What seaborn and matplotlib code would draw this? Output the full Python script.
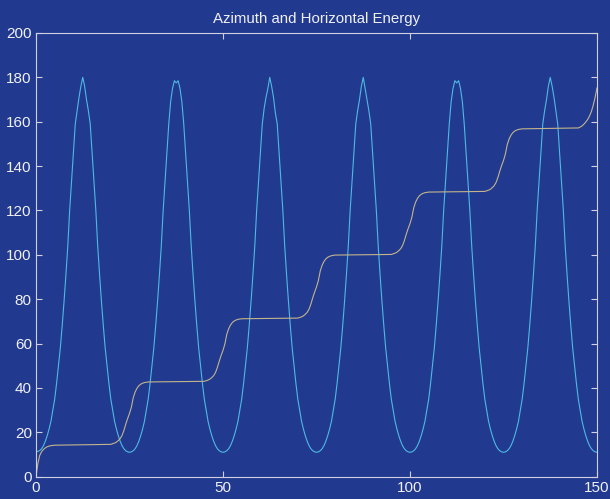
import matplotlib
matplotlib.use("Agg")
import matplotlib.pyplot as plt
import seaborn as sns
import pandas as pd
import numpy as np

# ---------------- data ----------------
title = "Azimuth and Horizontal Energy"
x_ticks = [0, 50, 100, 150]
y_ticks = [0, 20, 40, 60, 80, 100, 120, 140, 160, 180, 200]

# azimuth sampled every 0.5 on x (0 .. 150), one list per period
az_p1 = [11.3, 11.4, 11.8, 12.6, 14, 16, 18.5, 21.5, 25, 30, 35, 42, 50, 58, 68, 79, 91, 104, 120, 133,
         146, 159, 165, 171, 176, 180, 176, 170, 165, 159, 146, 133, 120, 104, 91, 79, 68, 58, 50, 42,
         35, 30, 25, 21.5, 18.5, 16, 14, 12.6, 11.7, 11.2]
az_p2 = [11.0, 11.2, 11.7, 12.6, 14, 16, 18.5, 21.5, 25, 30, 35, 42, 50, 58, 68, 79, 91, 104, 120, 133,
         146, 159, 169, 175, 178.5, 177.5, 178.5, 175, 169, 159, 146, 133, 120, 104, 91, 79, 68, 58, 50, 42,
         35, 30, 25, 21.5, 18.5, 16, 14, 12.6, 11.7, 11.2]
az_p3 = [11.0, 11.2, 11.7, 12.6, 14, 16, 18.5, 21.5, 25, 30, 35, 42, 50, 58, 68, 79, 91, 104, 120, 133,
         146, 159, 166, 171, 175, 180, 176, 171, 164, 159, 146, 133, 120, 104, 91, 79, 68, 58, 50, 42,
         35, 30, 25, 21.5, 18.5, 16, 14, 12.6, 11.7, 11.2]
az_p4 = [11.0, 11.2, 11.7, 12.6, 14, 16, 18.5, 21.5, 25, 30, 35, 42, 50, 58, 68, 79, 91, 104, 120, 133,
         146, 159, 165, 170, 176, 180, 175, 170, 165, 159, 146, 133, 120, 104, 91, 79, 68, 58, 50, 42,
         35, 30, 25, 21.5, 18.5, 16, 14, 12.6, 11.7, 11.2]
az_p5 = [11.0, 11.2, 11.7, 12.6, 14, 16, 18.5, 21.5, 25, 30, 35, 42, 50, 58, 68, 79, 91, 104, 120, 133,
         146, 159, 169, 175, 178.5, 177.5, 178.5, 175, 169, 159, 146, 133, 120, 104, 91, 79, 68, 58, 50, 42,
         35, 30, 25, 21.5, 18.5, 16, 14, 12.6, 11.7, 11.2]
az_p6 = [11.0, 11.2, 11.7, 12.6, 14, 16, 18.5, 21.5, 25, 30, 35, 42, 50, 58, 68, 79, 91, 104, 120, 133,
         146, 159, 165, 170, 176, 180, 176, 171, 165, 159, 146, 133, 120, 104, 91, 79, 68, 58, 50, 42,
         35, 30, 25, 21.5, 18.5, 16, 14, 12.6, 11.7, 11.2]
az_end = [11.0]

# horizontal energy: knots (x, value)
en_x = [0, 0.5, 1, 1.5, 2, 2.5, 3, 3.5, 4, 4.5, 5,
        20, 20.5, 21, 21.5, 22, 22.5, 23, 23.5, 24, 24.5, 25, 25.5, 26, 26.5, 27, 27.5, 28, 28.5, 29, 29.5, 30,
        45, 45.5, 46, 46.5, 47, 47.5, 48, 48.5, 49, 49.5, 50, 50.5, 51, 51.5, 52, 52.5, 53, 53.5, 54, 54.5, 55,
        70, 70.5, 71, 71.5, 72, 72.5, 73, 73.5, 74, 74.5, 75, 75.5, 76, 76.5, 77, 77.5, 78, 78.5, 79, 79.5, 80,
        95, 95.5, 96, 96.5, 97, 97.5, 98, 98.5, 99, 99.5, 100, 100.5, 101, 101.5, 102, 102.5, 103, 103.5, 104, 104.5, 105,
        120, 120.5, 121, 121.5, 122, 122.5, 123, 123.5, 124, 124.5, 125, 125.5, 126, 126.5, 127, 127.5, 128, 128.5, 129, 129.5, 130,
        145, 145.5, 146, 146.5, 147, 147.5, 148, 148.5, 149, 149.5, 150]
en_y = [0.0, 6.0, 9.6, 11.3, 12.3, 13.0, 13.5, 13.8, 14.0, 14.1, 14.2,
        14.58, 14.87, 15.15, 15.58, 16.29, 17.14, 18.56, 20.83, 23.67, 26.23, 28.5, 31.34, 35.6, 38.16, 39.86,
        41.0, 41.71, 42.13, 42.42, 42.56, 42.7,
        42.99, 43.27, 43.56, 43.98, 44.70, 45.55, 46.98, 49.26, 52.11, 54.67, 56.95, 59.8, 64.08, 66.64, 68.35,
        69.49, 70.2, 70.63, 70.92, 71.06, 71.2,
        71.49, 71.77, 72.06, 72.49, 73.21, 74.07, 75.51, 77.80, 80.67, 83.25, 85.55, 88.42, 92.73, 95.31, 97.03,
        98.18, 98.9, 99.33, 99.61, 99.76, 99.9,
        100.18, 100.47, 100.75, 101.18, 101.89, 102.74, 104.16, 106.43, 109.27, 111.83, 114.1, 116.94, 121.2,
        123.76, 125.46, 126.6, 127.31, 127.73, 128.02, 128.16, 128.3,
        128.59, 128.87, 129.16, 129.58, 130.3, 131.15, 132.58, 134.86, 137.71, 140.27, 142.55, 145.4, 149.68,
        152.24, 153.95, 155.09, 155.8, 156.23, 156.52, 156.66, 156.8,
        157.2, 157.6, 158.1, 158.9, 159.9, 161.0, 162.6, 164.6, 167.5, 171.0, 175.3]

# ---------------- build tables ----------------
az_vals = az_p1 + az_p2 + az_p3 + az_p4 + az_p5 + az_p6 + az_end
az_x = [i * 0.5 for i in range(len(az_vals))]
df_az = pd.DataFrame({"x": az_x, "y": az_vals})
df_en = pd.DataFrame({"x": en_x, "y": en_y})

# ---------------- style ----------------
bg = "#213a90"
fg = "#f0f0f6"
sns.set_style("ticks")
plt.rcParams["font.family"] = ["Liberation Sans", "DejaVu Sans"]

fig = plt.figure(figsize=(6.10, 4.99), dpi=100, facecolor=bg)
ax = fig.add_axes([36 / 610, 1 - 476.7 / 499, (597 - 36) / 610, (476.7 - 33) / 499])
ax.set_facecolor(bg)

sns.lineplot(data=df_az, x="x", y="y", ax=ax, color="#4fb9e2", linewidth=0.8, estimator=None, sort=False)
sns.lineplot(data=df_en, x="x", y="y", ax=ax, color="#c2b48c", linewidth=0.8, estimator=None, sort=False)

ax.set_xlim(0, 150)
ax.set_ylim(0, 200)
ax.set_xticks(x_ticks)
ax.set_yticks(y_ticks)
ax.set_xlabel("")
ax.set_ylabel("")
ax.set_title(title, color=fg, fontsize=10.8, pad=7.5)

for s in ax.spines.values():
    s.set_visible(True)
    s.set_color("#d0d0e0")
    s.set_linewidth(0.8)

ax.tick_params(axis="both", direction="in", length=4.5, width=0.8, color="#d0d0e0",
               labelcolor=fg, labelsize=11, top=True, right=True, pad=3)

fig.savefig("out.png", dpi=100, facecolor=bg)
